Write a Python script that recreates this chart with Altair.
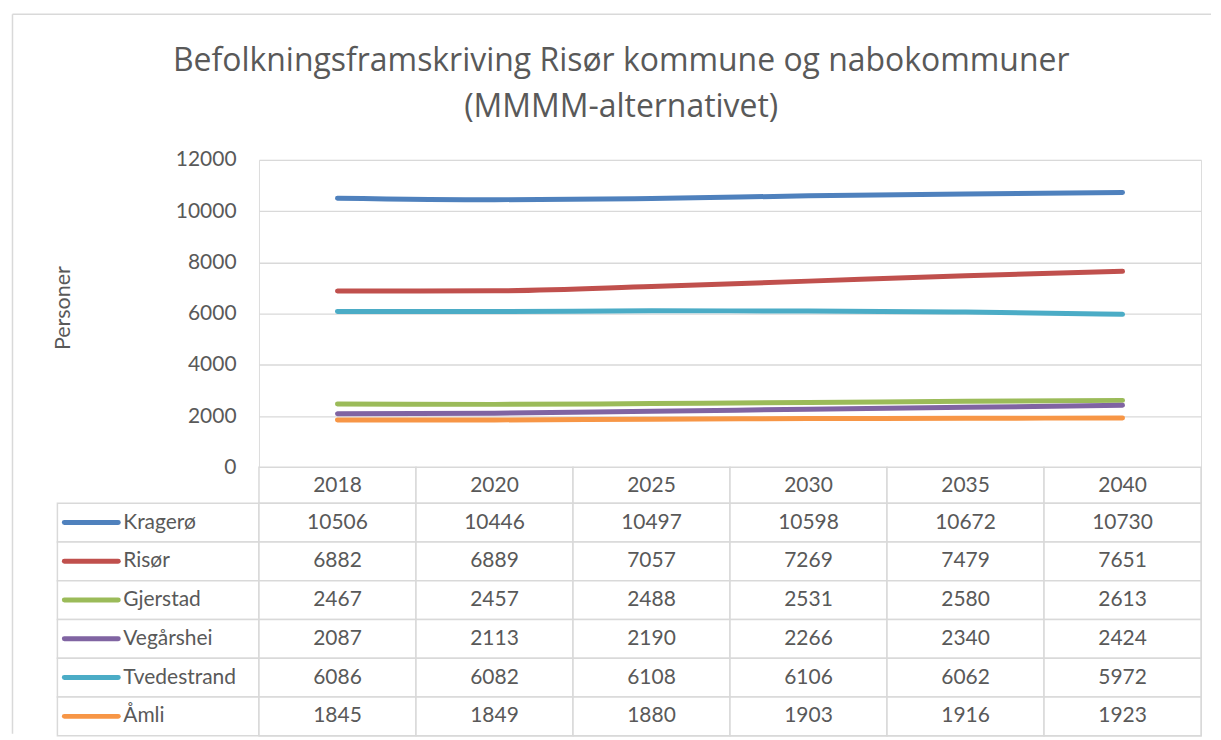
import altair as alt
import pandas as pd

# ---------------- data ----------------
years = ["2018", "2020", "2025", "2030", "2035", "2040"]
names = ["Kragerø", "Risør", "Gjerstad", "Vegårshei", "Tvedestrand", "Åmli"]
kragero = [10506, 10446, 10497, 10598, 10672, 10730]
risor = [6882, 6889, 7057, 7269, 7479, 7651]
gjerstad = [2467, 2457, 2488, 2531, 2580, 2613]
vegarshei = [2087, 2113, 2190, 2266, 2340, 2424]
tvedestrand = [6086, 6082, 6108, 6106, 6062, 5972]
amli = [1845, 1849, 1880, 1903, 1916, 1923]
colors = ["#4F81BD", "#C0504D", "#9BBB59", "#8064A2", "#4BACC6", "#F79646"]
y_ticks = [0, 2000, 4000, 6000, 8000, 10000, 12000]
title_lines = ["Befolkningsframskriving Risør kommune og nabokommuner",
               "(MMMM-alternativet)"]
y_title = "Personer"

series = [kragero, risor, gjerstad, vegarshei, tvedestrand, amli]
rows = []
for n, vals in zip(names, series):
    for yr, v in zip(years, vals):
        rows.append({"name": n, "year": yr, "value": v})
df = pd.DataFrame(rows)
df_years = pd.DataFrame({"year": years})
df_names = pd.DataFrame({"name": names})
df_one = pd.DataFrame({"a": [0]})

FONT = "Lato"
TXT = "#595959"
GRID = "#d9d9d9"
FS = 21
W = 944
H = 308

color_scale = alt.Scale(domain=names, range=colors)
x_point = alt.Scale(type="point", domain=years, padding=0.5)
x_band = alt.Scale(type="band", domain=years, paddingInner=0, paddingOuter=0)
y_band = alt.Scale(type="band", domain=names, paddingInner=0, paddingOuter=0)

# ---------------- line chart ----------------
lines = alt.Chart(df).mark_line(strokeWidth=5, strokeCap="round", interpolate="monotone").encode(
    x=alt.X("year:O", scale=x_point, axis=None),
    y=alt.Y("value:Q", scale=alt.Scale(domain=[0, 12000], nice=False),
            axis=alt.Axis(values=y_ticks, format="d", grid=True, gridColor=GRID, gridWidth=1.3,
                          domain=False, ticks=False, labelFontSize=FS, labelColor=TXT,
                          labelFont=FONT, labelPadding=23, title=y_title,
                          titleFontSize=21.5, titleFontWeight="normal", titleColor=TXT,
                          titleFont=FONT, titleX=-196, titleY=148,
                          titleAlign="center", titleBaseline="middle")),
    color=alt.Color("name:N", scale=color_scale, legend=None),
)

title = alt.Chart(df_one).mark_text(
    text=title_lines, fontSize=32, font="Open Sans", color=TXT, align="center",
    baseline="alphabetic", lineHeight=46,
).encode(x=alt.value(363), y=alt.value(-89))

border_v = alt.Chart(df_one).mark_rule(color=GRID, strokeWidth=1.5).encode(
    x=alt.value(-247), y=alt.value(-146), y2=alt.value(575))
border_h = alt.Chart(df_one).mark_rule(color=GRID, strokeWidth=1.5).encode(
    x=alt.value(-247), x2=alt.value(954), y=alt.value(-146))

top = alt.layer(border_v, border_h, title, lines).properties(width=W, height=H)

# ---------------- table header ----------------
hdr_cells = alt.Chart(df_years).mark_rect(fill="white", stroke=GRID, strokeWidth=1.5).encode(
    x=alt.X("year:O", scale=x_band, axis=None),
    y=alt.value(0), y2=alt.value(36))
hdr_text = alt.Chart(df_years).mark_text(fontSize=FS, font=FONT, color=TXT, baseline="middle").encode(
    x=alt.X("year:O", scale=x_band, axis=None, bandPosition=0.5),
    y=alt.value(19), text="year:N")
header = alt.layer(hdr_cells, hdr_text).properties(width=W, height=36)

# ---------------- table body ----------------
cells = alt.Chart(df).mark_rect(fill="white", stroke=GRID, strokeWidth=1.5).encode(
    x=alt.X("year:O", scale=x_band, axis=None),
    y=alt.Y("name:N", scale=y_band, axis=None))
cell_text = alt.Chart(df).mark_text(fontSize=FS, font=FONT, color=TXT, baseline="middle").encode(
    x=alt.X("year:O", scale=x_band, axis=None, bandPosition=0.5),
    y=alt.Y("name:N", scale=y_band, axis=None, bandPosition=0.5),
    text="value:Q")
leg_cells = alt.Chart(df_names).mark_rect(fill="white", stroke=GRID, strokeWidth=1.5).encode(
    x=alt.value(-202), x2=alt.value(0),
    y=alt.Y("name:N", scale=y_band, axis=None))
leg_keys = alt.Chart(df_names).mark_rule(strokeWidth=5, strokeCap="round").encode(
    x=alt.value(-195), x2=alt.value(-141),
    y=alt.Y("name:N", scale=y_band, axis=None, bandPosition=0.5),
    color=alt.Color("name:N", scale=color_scale, legend=None))
leg_text = alt.Chart(df_names).mark_text(fontSize=FS, font=FONT, color=TXT, align="left",
                                         baseline="middle").encode(
    x=alt.value(-136),
    y=alt.Y("name:N", scale=y_band, axis=None, bandPosition=0.5),
    text="name:N")
body = alt.layer(leg_cells, cells, cell_text, leg_keys, leg_text).properties(width=W, height=233)

chart = alt.vconcat(top, header, body, spacing=0, bounds="flush").resolve_scale(
    color="shared", x="independent", y="independent"
).properties(
    padding={"left": 2.5, "top": 3.5, "right": 0, "bottom": 0}
).configure_view(stroke=None).configure(background="white")

chart.save("out.html", embed_options={"renderer": "svg", "actions": False})
